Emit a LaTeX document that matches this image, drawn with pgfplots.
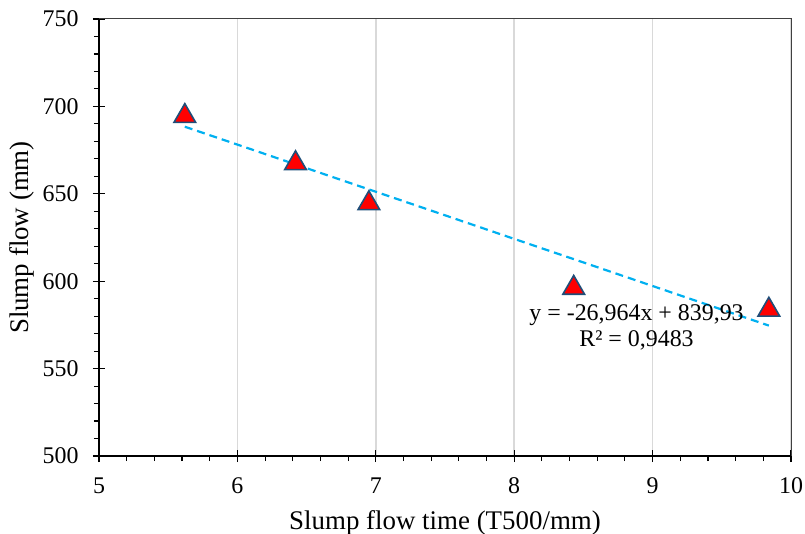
\documentclass[border=0pt]{standalone}
\usepackage{pgfplots}
\pgfplotsset{compat=1.18}
\usepackage{fontspec}
\setmainfont{Liberation Serif}
\definecolor{trend}{HTML}{00B0F0}
\definecolor{medge}{HTML}{1F4E79}
\definecolor{gridc}{HTML}{D9D9D9}
\pgfplotsset{
 base/.style={scale only axis, width=692bp, height=437bp, xmin=5, xmax=10, ymin=500, ymax=750,
  axis x line*=bottom, axis y line*=left,
  axis line style={line width=1.3bp, black},
  tick align=center, major tick length=12bp, minor tick length=5bp,
  every tick/.style={line width=1.1bp, black},
  ticklabel style={font=\fontsize{24}{28}\selectfont\rmfamily},
  /pgf/number format/assume math mode=true,
  label style={font=\fontsize{27}{32}\selectfont},
 }
}
\begin{document}
\begin{tikzpicture}
\begin{axis}[base,
  xtick={5,6,7,8,9,10}, xticklabels={\textrm{5},\textrm{6},\textrm{7},\textrm{8},\textrm{9},\textrm{10}}, minor x tick num=4, ytick=\empty,
  xmajorgrids, major grid style={gridc, line width=1.5bp},
  every minor tick/.append style={yshift=-2.5bp},
  xticklabel style={anchor=center, yshift=-24bp},
  xlabel={Slump flow time (T500/mm)},
  xlabel style={at={(axis description cs:0.5,-0.153)}, anchor=center},
  clip=false]
\addplot[only marks, mark=triangle*, mark size=12.5bp, mark options={fill=red, draw=medge, line width=1.6bp, yshift=-3.1bp}] coordinates {
(5.62,696.2) (6.42,669.2) (6.95,646.3) (8.43,597.9) (9.84,585.4)};
\addplot[trend, line width=2.2bp, dash pattern=on 8bp off 5bp] coordinates {(5.62,688.39) (9.84,574.60)};
\node[align=center, font=\fontsize{24}{26}\selectfont] at (axis cs:8.884,573.8) {y = -26,964x + 839,93\\R² = 0,9483};
\coordinate (sw) at (rel axis cs:0,0);
\coordinate (ne) at (rel axis cs:1,1);
\end{axis}
\begin{axis}[base,
  xtick=\empty, ytick={500,550,600,650,700,750}, yticklabels={\textrm{500},\textrm{550},\textrm{600},\textrm{650},\textrm{700},\textrm{750}}, minor y tick num=4,
  every minor tick/.append style={xshift=-2.5bp},
  yticklabel style={anchor=east, xshift=-11bp},
  ylabel={Slump flow (mm)},
  ylabel style={at={(axis description cs:-0.1113,0.5)}, anchor=center}]
\end{axis}
\draw[black!75, line width=1bp] (sw -| ne) -- (ne) -- (ne -| sw);
\pgfresetboundingbox
\path (sw) ++(-99bp,-78bp) rectangle ++(805bp,534bp);
\end{tikzpicture}
\end{document}
